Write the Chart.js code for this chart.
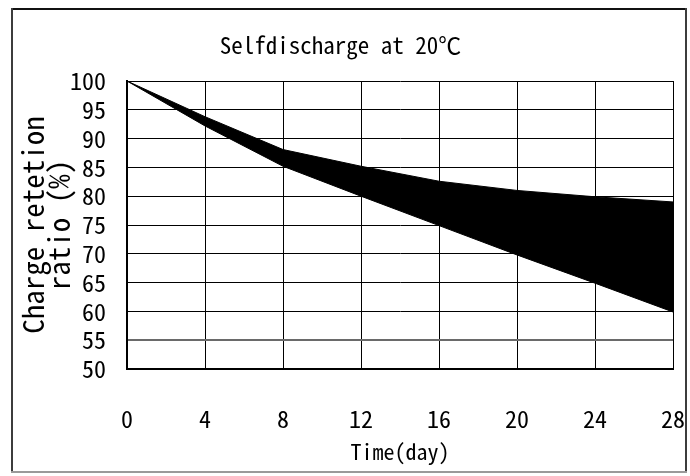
<!DOCTYPE html>
<html><head><meta charset="utf-8">
<script src="https://cdn.jsdelivr.net/npm/chart.js@4/dist/chart.umd.min.js"></script>
<style>html,body{margin:0;padding:0;background:#fff}canvas{display:block}</style>
</head><body>
<canvas id="c" width="690" height="476"></canvas>
<script>
// ---- data ----
const days = [0, 4, 8, 12, 16, 20, 24, 28];
const upperRetention = [100, 93.8, 88.1, 85.2, 82.6, 81.0, 79.9, 79.0];
const lowerRetention = [100, 92.2, 85.2, 80.0, 74.9, 69.8, 64.9, 59.9];
const xTickValues = [0, 4, 8, 12, 16, 20, 24, 28];
const yTickValues = [50, 55, 60, 65, 70, 75, 80, 85, 90, 95, 100];
const chartTitle = 'Selfdischarge at 20℃';
const xTitle = 'Time(day)';
const yTitle = ['Charge retetion', 'ratio (%)'];

const FONT = '"Noto Sans Mono CJK SC", "DejaVu Sans Mono", monospace';

const toPts = (xs, ys) => xs.map((x, i) => ({x: x, y: ys[i]}));

const framePlugin = {
  id: 'frame',
  beforeDraw(chart) {
    const ctx = chart.ctx;
    ctx.save();
    ctx.fillStyle = '#fff';
    ctx.fillRect(0, 0, chart.width, chart.height);
    ctx.restore();
  },
  afterDraw(chart) {
    const ctx = chart.ctx;
    ctx.save();
    ctx.lineWidth = 2;
    ctx.strokeStyle = '#111';
    ctx.beginPath(); ctx.moveTo(11, 9); ctx.lineTo(687, 9); ctx.stroke();
    ctx.strokeStyle = '#3c3c3c';
    ctx.beginPath(); ctx.moveTo(12, 8); ctx.lineTo(12, 473); ctx.stroke();
    ctx.beginPath(); ctx.moveTo(686, 8); ctx.lineTo(686, 473); ctx.stroke();
    ctx.strokeStyle = '#9a9a9a';
    ctx.beginPath(); ctx.moveTo(11, 472); ctx.lineTo(687, 472); ctx.stroke();
    ctx.restore();
  }
};

new Chart(document.getElementById('c'), {
  type: 'line',
  data: {
    datasets: [
      {
        label: 'upper',
        data: toPts(days, upperRetention),
        borderColor: '#000',
        backgroundColor: '#000',
        borderWidth: 1,
        pointRadius: 0,
        tension: 0,
        fill: '+1'
      },
      {
        label: 'lower',
        data: toPts(days, lowerRetention),
        borderColor: '#000',
        backgroundColor: '#000',
        borderWidth: 1,
        pointRadius: 0,
        tension: 0,
        fill: false
      }
    ]
  },
  options: {
    responsive: false,
    animation: false,
    devicePixelRatio: 1,
    layout: {padding: {left: 8, right: 17, top: 8, bottom: 8}},
    plugins: {
      legend: {display: false},
      tooltip: {enabled: false},
      title: {
        display: true,
        text: chartTitle,
        color: '#000',
        font: {family: FONT, size: 23, weight: 'normal', lineHeight: 1.2},
        padding: {top: 23, bottom: 22.4}
      }
    },
    scales: {
      x: {
        type: 'linear',
        min: 0, max: 28,
        afterBuildTicks: s => { s.ticks = xTickValues.map(v => ({value: v})); },
        afterFit: s => { s.height = 476 - 369 - 8; s.paddingLeft = 0; s.paddingRight = 0; },
        ticks: {
          autoSkip: false, maxRotation: 0, padding: 35,
          color: '#000',
          font: {family: FONT, size: 24, lineHeight: 1.2}
        },
        grid: {color: '#000', lineWidth: 1, drawTicks: false},
        border: {color: '#000', width: 2},
        title: {
          display: true, text: xTitle, color: '#000',
          font: {family: FONT, size: 22, lineHeight: 1.2},
          padding: {top: 0, bottom: 3}
        }
      },
      y: {
        type: 'linear',
        min: 50, max: 100,
        afterBuildTicks: s => { s.ticks = yTickValues.map(v => ({value: v})); },
        afterFit: s => { s.width = 127 - 8; },
        ticks: {
          autoSkip: false, padding: 21,
          color: '#000',
          font: {family: FONT, size: 24, lineHeight: 1.0}
        },
        grid: {
          color: c => (c.tick && c.tick.value === 55) ? '#6a6a6a' : '#000',
          lineWidth: c => (c.tick && c.tick.value === 55) ? 2 : 1,
          drawTicks: false
        },
        border: {color: '#000', width: 2},
        title: {
          display: true, text: yTitle, color: '#000',
          font: {family: FONT, size: 29, lineHeight: 0.93},
          padding: {top: 11, bottom: 0}
        }
      }
    }
  },
  plugins: [framePlugin]
});
</script>
</body></html>
